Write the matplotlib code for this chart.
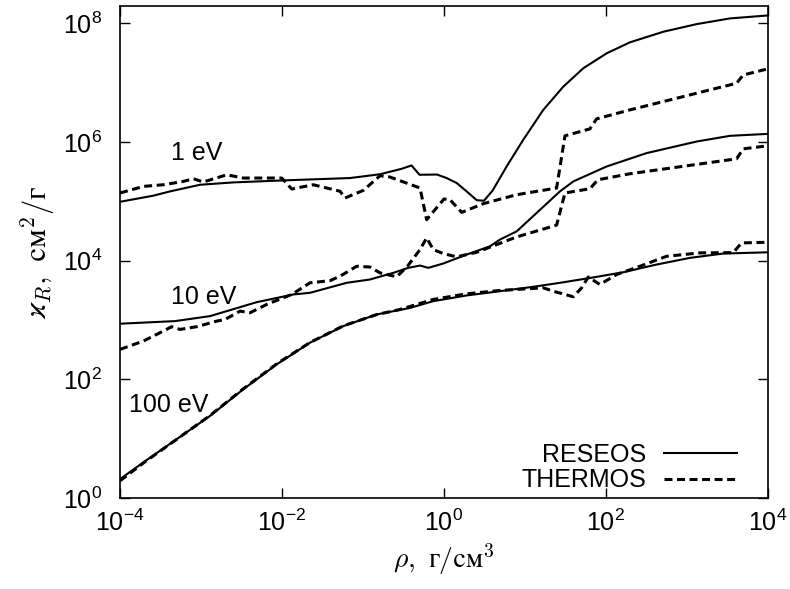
import numpy as np
import matplotlib
matplotlib.use("Agg")
from matplotlib import pyplot as plt
from matplotlib.ticker import NullLocator

# all values are log10(rho [g/cm3]) and log10(kappa_R [cm2/g])
lg_rho_1ev_res = [-4.0, -3.593, -3.383, -3.012, -2.605, -1.988, -1.160, -0.790, -0.522,
                  -0.401, -0.302, -0.086, 0.033, 0.157, 0.280, 0.404, 0.494, 0.599,
                  0.774, 0.979, 1.226, 1.473, 1.720, 2.009, 2.296, 2.707, 3.120, 3.531, 4.0]
lg_kap_1ev_res = [4.99, 5.092, 5.165, 5.277, 5.316, 5.350, 5.390, 5.454, 5.546,
                  5.602, 5.445, 5.449, 5.390, 5.306, 5.165, 5.017, 5.008, 5.176,
                  5.585, 6.034, 6.538, 6.929, 7.239, 7.491, 7.676, 7.854, 7.983, 8.079, 8.129]

lg_rho_1ev_thm = [-4.0, -3.712, -3.465, -3.219, -3.095, -2.972, -2.683, -2.478, -2.004,
                  -1.880, -1.614, -1.284, -1.222, -0.996, -0.790, -0.667, -0.296, -0.214,
                  0.0, 0.074, 0.219, 0.485, 0.898, 1.391, 1.494, 1.802, 1.885, 2.296,
                  3.614, 3.695, 4.0]
lg_kap_1ev_thm = [5.138, 5.249, 5.277, 5.333, 5.378, 5.323, 5.445, 5.390, 5.390,
                  5.205, 5.277, 5.168, 5.054, 5.182, 5.429, 5.407, 5.222, 4.689,
                  5.037, 5.025, 4.812, 4.958, 5.109, 5.222, 6.101, 6.218, 6.387, 6.538,
                  6.987, 7.126, 7.230]

lg_rho_10ev_res = [-4.0, -3.321, -2.889, -2.683, -2.312, -1.860, -1.654, -1.201, -0.914,
                   -0.626, -0.441, -0.296, -0.194, -0.009, 0.280, 0.568, 0.691, 0.898,
                   1.144, 1.432, 1.597, 2.009, 2.502, 3.120, 3.531, 4.0]
lg_kap_10ev_res = [2.936, 2.980, 3.064, 3.148, 3.299, 3.429, 3.457, 3.625, 3.681,
                   3.793, 3.877, 3.916, 3.877, 3.950, 4.101, 4.240, 4.353, 4.492,
                   4.802, 5.165, 5.333, 5.585, 5.810, 6.005, 6.101, 6.134]

lg_rho_10ev_thm = [-4.0, -3.712, -3.506, -3.362, -3.259, -3.053, -2.806, -2.704, -2.519,
                   -2.395, -2.189, -1.984, -1.880, -1.654, -1.407, -1.284, -1.078, -0.914,
                   -0.790, -0.584, -0.451, -0.296, -0.214, -0.132, -0.009, 0.157, 0.404,
                   0.651, 0.898, 1.391, 1.494, 1.802, 1.901, 2.296, 3.614, 3.695, 4.0]
lg_kap_10ev_thm = [2.504, 2.644, 2.785, 2.886, 2.840, 2.886, 2.980, 3.008, 3.148,
                   3.121, 3.261, 3.373, 3.429, 3.625, 3.661, 3.736, 3.904, 3.891,
                   3.793, 3.726, 3.904, 4.185, 4.382, 4.185, 4.118, 4.062, 4.139,
                   4.269, 4.398, 4.597, 5.138, 5.210, 5.361, 5.462, 5.714, 5.882, 5.933]

lg_rho_100ev_res = [-4.0, -3.712, -3.300, -2.889, -2.478, -2.065, -1.654, -1.243, -0.831,
                    -0.420, -0.132, 0.280, 0.691, 1.102, 1.432, 1.802, 2.214, 2.626,
                    3.037, 3.448, 4.0]
lg_kap_100ev_res = [0.319, 0.600, 0.992, 1.383, 1.832, 2.252, 2.617, 2.896, 3.092,
                    3.202, 3.316, 3.412, 3.484, 3.558, 3.625, 3.706, 3.803, 3.933,
                    4.045, 4.118, 4.139]

lg_rho_100ev_thm = [-4.0, -3.712, -3.300, -2.889, -2.478, -2.065, -1.654, -1.243, -0.831,
                    -0.543, -0.132, 0.280, 0.691, 1.226, 1.349, 1.597, 1.700, 1.782,
                    1.926, 2.132, 2.420, 2.749, 3.160, 3.572, 3.675, 4.0]
lg_kap_100ev_thm = [0.29, 0.59, 0.99, 1.39, 1.84, 2.26, 2.62, 2.90, 3.09,
                    3.176, 3.345, 3.440, 3.496, 3.541, 3.484, 3.390, 3.541, 3.723,
                    3.597, 3.765, 3.904, 4.072, 4.129, 4.134, 4.297, 4.308]

# curve labels: text, log10(rho), log10(kappa) of the text centre
curve_labels = [("1 eV", -3.06, 5.81), ("10 eV", -2.97, 3.39), ("100 eV", -3.40, 1.56)]

x_ticks = [1e-4, 1e-2, 1e0, 1e2, 1e4]
x_tick_labels = [r"$\mathregular{10^{-4}}$", r"$\mathregular{10^{-2}}$",
                 r"$\mathregular{10^{0}}$", r"$\mathregular{10^{2}}$",
                 r"$\mathregular{10^{4}}$"]
y_ticks = [1e0, 1e2, 1e4, 1e6, 1e8]
y_tick_labels = [r"$\mathregular{10^{0}}$", r"$\mathregular{10^{2}}$",
                 r"$\mathregular{10^{4}}$", r"$\mathregular{10^{6}}$",
                 r"$\mathregular{10^{8}}$"]

plt.rcParams["font.family"] = ["Liberation Sans", "DejaVu Sans"]

fig, ax = plt.subplots(figsize=(7.9, 5.89), dpi=100)
fig.subplots_adjust(left=0.152, right=0.972, bottom=0.1545, top=0.99)

solid = dict(color="black", lw=1.5, ls="-")
dashed = dict(color="black", lw=2.2, ls=(0, (2.6, 1.5)))

curves = [
    (lg_rho_1ev_res, lg_kap_1ev_res, lg_rho_1ev_thm, lg_kap_1ev_thm),
    (lg_rho_10ev_res, lg_kap_10ev_res, lg_rho_10ev_thm, lg_kap_10ev_thm),
    (lg_rho_100ev_res, lg_kap_100ev_res, lg_rho_100ev_thm, lg_kap_100ev_thm),
]
for i, (xr, yr, xt, yt) in enumerate(curves):
    ax.plot(10**np.array(xr), 10**np.array(yr), label="RESEOS" if i == 0 else None, **solid)
    ax.plot(10**np.array(xt), 10**np.array(yt), label="THERMOS" if i == 0 else None, **dashed)

for text, lx, ly in curve_labels:
    ax.text(10**lx, 10**ly, text, fontsize=18, ha="center", va="center")

ax.set_xscale("log")
ax.set_yscale("log")
ax.set_xlim(1e-4, 1e4)
ax.set_ylim(1, 1.95e8)
ax.set_xticks(x_ticks)
ax.set_xticklabels(x_tick_labels)
ax.set_yticks(y_ticks)
ax.set_yticklabels(y_tick_labels)
ax.xaxis.set_minor_locator(NullLocator())
ax.yaxis.set_minor_locator(NullLocator())
ax.tick_params(direction="in", top=True, right=True, length=7, width=1, labelsize=18)
ax.tick_params(axis="x", pad=8)
ax.tick_params(axis="y", pad=13)
for s in ax.spines.values():
    s.set_linewidth(1.2)

ax.set_xlabel(r"$\rho,\ \mathrm{г/см}^3$", fontsize=20, math_fontfamily="cm", labelpad=4)
ax.set_ylabel(r"$\varkappa_R,\ \mathrm{см}^2/\mathrm{г}$", fontsize=22,
              math_fontfamily="cm", labelpad=4)

ax.legend(loc="lower right", bbox_to_anchor=(0.967, -0.009), frameon=False,
          markerfirst=False, fontsize=18, handlelength=2.9, labelspacing=0.05,
          handletextpad=0.7, borderaxespad=0.0)

fig.savefig("out.png", dpi=100)
